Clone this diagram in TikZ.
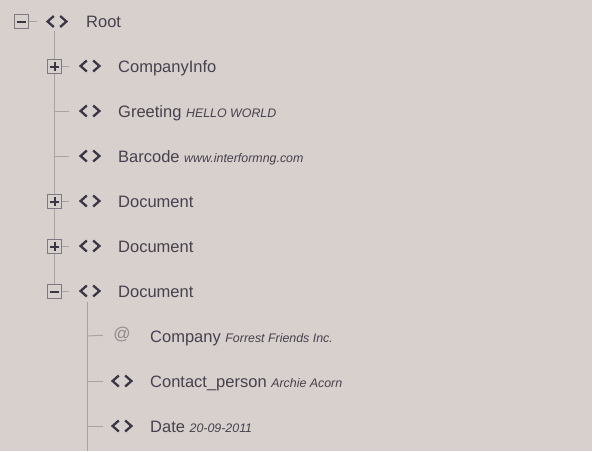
\documentclass[tikz,border=0pt]{standalone}
\usepackage{fontspec}
\setmainfont{Liberation Sans}
\usetikzlibrary{calc}
\definecolor{bgc}{HTML}{D8D0CD}
\definecolor{txtc}{HTML}{46414E}
\definecolor{icc}{HTML}{3A3646}
\definecolor{linec}{HTML}{A8A3A4}
\definecolor{boxc}{HTML}{7D7980}
\definecolor{atc}{HTML}{8F8A8D}
\newcommand\vtext[1]{{\fontsize{12.4}{14}\selectfont\itshape #1}}
\begin{document}
\begin{tikzpicture}[x=1pt,y=-1pt,
  tline/.style={draw=linec, line width=1pt},
  codeicon/.style={minimum width=26pt, minimum height=18pt, inner sep=0pt,
    path picture={
      \draw[icc, line width=2.3pt, line join=miter]
        ($(path picture bounding box.center)+(-3.2,-5.5)$) -- ++(-6.2,5.5) -- ++(6.2,5.5);
      \draw[icc, line width=2.3pt, line join=miter]
        ($(path picture bounding box.center)+(3.2,-5.5)$) -- ++(6.2,5.5) -- ++(-6.2,5.5);
    }},
  aticon/.style={minimum width=26pt, minimum height=18pt, inner sep=0pt, text=atc,
    font=\fontsize{17}{18}\selectfont},
  tbox/.style={draw=boxc, fill=bgc, line width=0.9pt, minimum size=14pt, inner sep=0pt},
  tboxminus/.style={tbox, path picture={
      \draw[icc, line width=2pt] ($(path picture bounding box.center)+(-4.8,0)$) -- ++(9.6,0);}},
  tboxplus/.style={tbox, path picture={
      \draw[icc, line width=2pt] ($(path picture bounding box.center)+(-4.8,0)$) -- ++(9.6,0);
      \draw[icc, line width=2pt] ($(path picture bounding box.center)+(0,-4.8)$) -- ++(0,9.6);}},
  lbl/.style={anchor=base west, inner sep=0pt, text=txtc, font=\fontsize{16.5}{18}\selectfont}
]
\fill[bgc] (0,0) rectangle (592,451);
\useasboundingbox (0,0) rectangle (592,451);

% vertical guide lines
\coordinate (v1s) at (54.5,31);
\coordinate (v2s) at (87,302);
\coordinate (v2e) at (87,451);

% root
\node[codeicon] (i0) at (57,21.5) {};
\node[lbl] (t0) at (86,27.5) {Root};

% level 1 icons and labels
\node[codeicon] (i1) at (90,66) {};
\node[lbl] (t1) at (118,72) {CompanyInfo};
\node[codeicon] (i2) at (90,111) {};
\node[lbl] (t2) at (118,117) {Greeting \vtext{HELLO WORLD}};
\node[codeicon] (i3) at (90,156) {};
\node[lbl] (t3) at (118,162) {Barcode \vtext{www.interformng.com}};
\node[codeicon] (i4) at (90,201) {};
\node[lbl] (t4) at (118,207) {Document};
\node[codeicon] (i5) at (90,246) {};
\node[lbl] (t5) at (118,252) {Document};
\node[codeicon] (i6) at (90,291) {};
\node[lbl] (t6) at (118,297) {Document};

% level 2
\node[aticon] (i7) at (122,335) {@};
\node[lbl] (t7) at (150,342) {Company \vtext{Forrest Friends Inc.}};
\node[codeicon] (i8) at (122,381) {};
\node[lbl] (t8) at (150,387) {Contact\_person \vtext{Archie Acorn}};
\node[codeicon] (i9) at (122,426) {};
\node[lbl] (t9) at (150,432) {Date \vtext{20-09-2011}};

% junction coordinates
\coordinate (j2) at (54.5,111);
\coordinate (j3) at (54.5,156);
\coordinate (j7) at (87,336);
\coordinate (j8) at (87,381);
\coordinate (j9) at (87,426);
\coordinate (b6top) at (54.5,284);

% lines
\draw[tline] (v1s) -- (b6top);
\draw[tline] (v2s) -- (v2e);
\draw[tline, shorten >=7pt] (21.5,21.5) -- (i0.west);
\draw[tline, shorten >=8pt] (54.5,66) -- (i1.west);
\draw[tline, shorten >=8pt] (j2) -- (i2.west);
\draw[tline, shorten >=8pt] (j3) -- (i3.west);
\draw[tline, shorten >=8pt] (54.5,201) -- (i4.west);
\draw[tline, shorten >=8pt] (54.5,246) -- (i5.west);
\draw[tline, shorten >=8pt] (54.5,291) -- (i6.west);
\draw[tline, shorten >=6pt] (j7) -- (i7.west);
\draw[tline, shorten >=6pt] (j8) -- (i8.west);
\draw[tline, shorten >=6pt] (j9) -- (i9.west);

% expander boxes
\node[tboxminus] (b0) at (21.5,21.5) {};
\node[tboxplus] (b1) at (54.5,66.5) {};
\node[tboxplus] (b4) at (54.5,201.5) {};
\node[tboxplus] (b5) at (54.5,246.5) {};
\node[tboxminus] (b6) at (54.5,291.5) {};
\end{tikzpicture}
\end{document}
